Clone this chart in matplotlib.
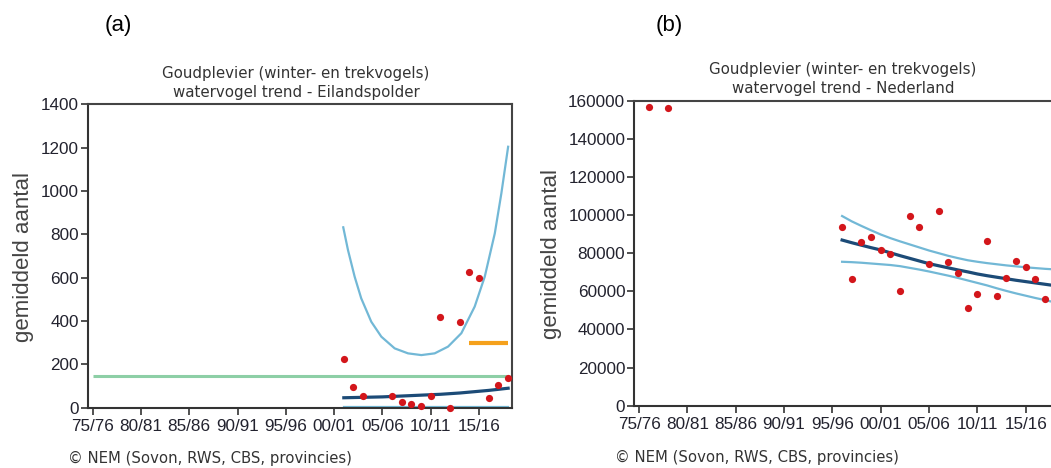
import matplotlib
matplotlib.use("Agg")
import matplotlib.pyplot as plt

# ---------------- data ----------------
tick_years = [1975, 1980, 1985, 1990, 1995, 2000, 2005, 2010, 2015]
tick_labels = ["75/76", "80/81", "85/86", "90/91", "95/96", "00/01", "05/06", "10/11", "15/16"]

# panel (a) Eilandspolder
a_pt_years = [2001, 2002, 2003, 2006, 2007, 2008, 2009, 2010, 2011, 2012, 2013, 2014, 2015, 2016, 2017, 2018]
a_pt_vals = [226, 94, 53, 53, 25, 17, 5, 53, 417, 0, 395, 627, 598, 45, 102, 137]
# upper confidence limit
a_upper_years = [2000.94, 2001.43, 2002.12, 2002.8, 2003.84, 2004.88, 2006.26, 2007.64, 2009.02,
                 2010.4, 2011.78, 2013.16, 2014.54, 2015.58, 2016.62, 2017.3, 2018.0]
a_upper = [832, 727, 604, 504, 396, 327, 273, 250, 242,
           250, 281, 343, 466, 604, 804, 989, 1204]
a_line_years = [2001, 2002, 2003, 2004, 2005, 2006, 2007, 2008, 2009, 2010,
                2011, 2012, 2013, 2014, 2015, 2016, 2017, 2018]
a_trend = [45, 46, 47, 48, 49, 51, 53, 55, 57, 59,
           61, 64, 67, 71, 75, 79, 84, 89]
a_lower = [4, 4, 4, 4, 4, 4, 4, 4, 4, 4,
           4, 4, 4, 4, 4, 4, 4, 4]
a_green_years = [1975, 2018]
a_green_vals = [147, 147]
a_orange_years = [2014, 2018]
a_orange_vals = [300, 300]

# panel (b) Nederland
b_pt_years = [1976, 1978, 1996, 1997, 1998, 1999, 2000, 2001, 2002, 2003, 2004, 2005,
              2006, 2007, 2008, 2009, 2010, 2011, 2012, 2013, 2014, 2015, 2016, 2017]
b_pt_vals = [156700, 156000, 93900, 66400, 85800, 88300, 81700, 79400, 60300, 99300, 93900, 74300,
             102300, 75400, 69800, 51200, 58400, 86200, 57700, 67200, 76000, 72900, 66400, 56100]
b_line_years = [1996, 1997, 1998, 1999, 2000, 2001, 2002, 2003, 2004, 2005, 2006, 2007,
                2008, 2009, 2010, 2011, 2012, 2013, 2014, 2015, 2016, 2017, 2018]
b_trend = [86900, 85500, 84200, 82900, 81700, 80200, 78700, 77300, 75900, 74500, 73400, 72300,
           71200, 70200, 69100, 68200, 67400, 66600, 65800, 65100, 64400, 63700, 63000]
b_upper = [99500, 96700, 94300, 92000, 89800, 87900, 86200, 84600, 83000, 81400, 80000, 78600,
           77400, 76300, 75500, 74800, 74200, 73600, 73100, 72600, 72200, 71800, 71500]
b_lower = [75500, 75300, 75000, 74600, 74200, 73800, 73200, 72300, 71400, 70400, 69300, 68200,
           67000, 65700, 64400, 63100, 61600, 60200, 58900, 57700, 56500, 55400, 54200]

title_line1 = "Goudplevier (winter- en trekvogels)"
title_a = "watervogel trend - Eilandspolder"
title_b = "watervogel trend - Nederland"
ylabel = "gemiddeld aantal"
footer = "\u00a9 NEM (Sovon, RWS, CBS, provincies)"

# ---------------- style ----------------
W, H = 1051, 468
LIGHT = "#72b8d6"
DARK = "#1c4b77"
GREEN = "#8dcfa6"
ORANGE = "#f5a11c"
RED = "#d3161b"
SPINE = "#444444"
TXT = "#22222e"
TICKFONT = "Liberation Sans"
TFONT = "DejaVu Sans"

fig = plt.figure(figsize=(W / 100, H / 100), dpi=100)


def px_axes(left, top, right, bottom):
    return fig.add_axes([left / W, 1 - bottom / H, (right - left) / W, (bottom - top) / H])


def style(ax, ymax, ystep):
    ax.set_xlim(1974.5, 2018.4)
    ax.set_ylim(0, ymax)
    ax.set_xticks(tick_years)
    ax.set_xticklabels(tick_labels)
    ax.set_yticks(list(range(0, ymax + 1, ystep)))
    for s in ax.spines.values():
        s.set_color(SPINE)
        s.set_linewidth(1.5)
    ax.spines["left"].set_color("#333333")
    ax.spines["bottom"].set_color("#333333")
    ax.tick_params(axis="both", direction="out", length=5, width=1.2, color="#333333",
                   labelsize=12.3, labelcolor=TXT)
    ax.tick_params(axis="y", pad=1.5)
    ax.tick_params(axis="x", pad=3)
    for lab in ax.get_xticklabels() + ax.get_yticklabels():
        lab.set_fontfamily(TICKFONT)


# panel (a)
axa = px_axes(87.7, 104.3, 512, 407.5)
style(axa, 1400, 200)
axa.plot(a_green_years, a_green_vals, color=GREEN, lw=2.2, solid_capstyle="butt")
axa.plot(a_orange_years, a_orange_vals, color=ORANGE, lw=3.0, solid_capstyle="butt")
axa.plot(a_upper_years, a_upper, color=LIGHT, lw=1.6)
axa.plot(a_line_years, a_lower, color=LIGHT, lw=1.6, clip_on=False)
axa.plot(a_line_years, a_trend, color=DARK, lw=2.3)
axa.plot(a_pt_years, a_pt_vals, "o", color=RED, ms=5.2, mec="none", clip_on=False, zorder=5)

# panel (b) (extends past the right edge of the picture)
axb = px_axes(634.3, 100.7, 1058.6, 405.7)
style(axb, 160000, 20000)
axb.plot(b_line_years, b_upper, color=LIGHT, lw=1.6)
axb.plot(b_line_years, b_lower, color=LIGHT, lw=1.6)
axb.plot(b_line_years, b_trend, color=DARK, lw=2.3)
axb.plot(b_pt_years, b_pt_vals, "o", color=RED, ms=5.2, mec="none", clip_on=False, zorder=5)


def ftext(x, y, s, **kw):
    fig.text(x / W, 1 - y / H, s, **kw)


TSIZE = 10.8
# titles
ftext(296, 73.5, title_line1, ha="center", va="center", fontsize=TSIZE, family=TFONT, color="#333333")
ftext(296, 92.5, title_a, ha="center", va="center", fontsize=TSIZE, family=TFONT, color="#333333")
ftext(843, 69.5, title_line1, ha="center", va="center", fontsize=TSIZE, family=TFONT, color="#333333")
ftext(843, 88.5, title_b, ha="center", va="center", fontsize=TSIZE, family=TFONT, color="#333333")

# y labels
ftext(23, 257, ylabel, ha="center", va="center", rotation=90, fontsize=16, family=TICKFONT, color="#444444")
ftext(551, 254, ylabel, ha="center", va="center", rotation=90, fontsize=16, family=TICKFONT, color="#444444")

# footers
ftext(68, 458, footer, ha="left", va="center", fontsize=10.7, family=TFONT, color="#333333")
ftext(615, 457, footer, ha="left", va="center", fontsize=10.7, family=TFONT, color="#333333")

# panel labels
ftext(118, 25, "(a)", ha="center", va="center", fontsize=16, family=TICKFONT, color="black")
ftext(669, 25, "(b)", ha="center", va="center", fontsize=16, family=TICKFONT, color="black")

fig.savefig("out.png", dpi=100)
